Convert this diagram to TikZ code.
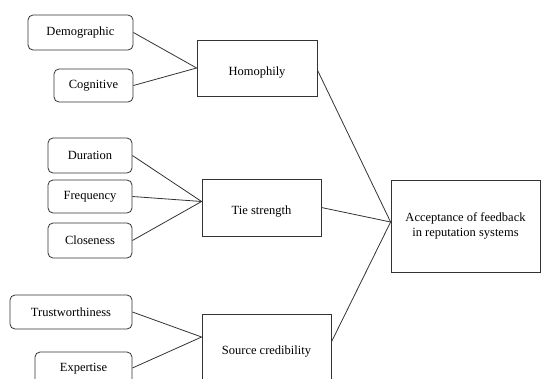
\documentclass[tikz,border=0pt]{standalone}
\usepackage{fontspec}
\setmainfont{Liberation Serif}
\begin{document}
\begin{tikzpicture}[x=1pt,y=-1pt,
  every node/.style={font=\fontsize{12.5}{15}\selectfont, inner sep=0pt, text=black},
  sub/.style={draw=black!80, line width=0.8pt, rounded corners=5pt},
  mainbox/.style={draw=black!80, line width=0.8pt},
  conn/.style={draw=black!80, line width=0.8pt}]
\useasboundingbox (0,0) rectangle (541,378);
\clip (0,0) rectangle (541,378);
% factors
\node[sub, minimum width=105pt, minimum height=35pt] (dem) at (80.5,32.5) {Demographic};
\node[sub, minimum width=79pt, minimum height=33pt] (cog) at (93.5,85.5) {Cognitive};
\node[sub, minimum width=84pt, minimum height=35pt] (dur) at (90,155.5) {Duration};
\node[sub, minimum width=84pt, minimum height=33pt] (fre) at (90,196.5) {Frequency};
\node[sub, minimum width=84pt, minimum height=35pt] (clo) at (90,240.5) {Closeness};
\node[sub, minimum width=122pt, minimum height=34pt] (tru) at (71,312) {Trustworthiness};
\node[sub, minimum width=97pt, minimum height=34pt] (exp) at (83.5,369) {Expertise};
% constructs
\node[mainbox, minimum width=120pt, minimum height=56pt,
  label={[yshift=-4.5pt]center:Homophily}] (hom) at (257,68) {};
\node[mainbox, minimum width=119pt, minimum height=57pt,
  label={[yshift=-4.5pt]center:Tie strength}] (tie) at (261.5,207.5) {};
\node[mainbox, minimum width=129pt, minimum height=76pt] (src) at (266.5,352) {Source credibility};
\node[mainbox, minimum width=149pt, minimum height=92pt, align=center] (acc) at (465.5,226) {Acceptance of feedback\\in reputation systems};
% connectors
\draw[conn] (dem.east) -- (hom.west);
\draw[conn] (cog.east) -- (hom.west);
\draw[conn] (dur.east) -- ([yshift=6pt]tie.west);
\draw[conn] (fre.east) -- ([yshift=6pt]tie.west);
\draw[conn] (clo.east) -- ([yshift=6pt]tie.west);
\draw[conn] (tru.east) -- ([yshift=15pt]src.west);
\draw[conn] ([yshift=1pt]exp.east) -- ([yshift=15pt]src.west);
\draw[conn] ([yshift=-2pt]hom.east) -- ([yshift=4pt]acc.west);
\draw[conn] (tie.east) -- ([yshift=4pt]acc.west);
\draw[conn] ([yshift=10pt]src.east) -- ([yshift=4pt]acc.west);
\end{tikzpicture}
\end{document}
